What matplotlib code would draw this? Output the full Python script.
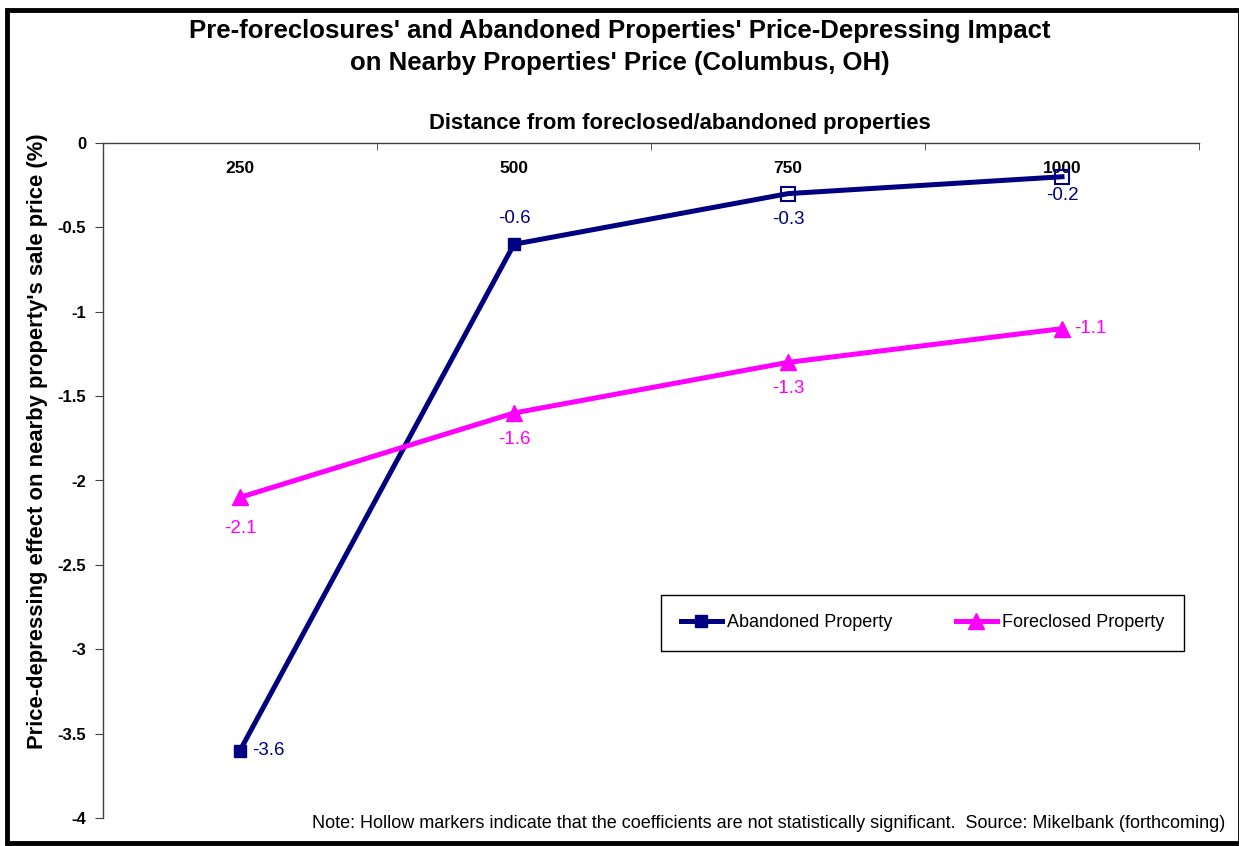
import matplotlib.pyplot as plt
from matplotlib.patches import Rectangle

plt.rcParams['font.family'] = ['Liberation Sans', 'DejaVu Sans']

distancias = ['250', '500', '750', '1000']
abandonado = [-3.6, -0.6, -0.3, -0.2]
execucao = [-2.1, -1.6, -1.3, -1.1]
# coeficientes significativos (marcador cheio) ou nao (vazio)
abandonado_sig = [True, True, False, False]
execucao_sig = [True, True, True, True]

azul = '#000080'
rosa = '#FF00FF'

fig = plt.figure(figsize=(12.39, 8.46), dpi=100)
ax = fig.add_axes([103 / 1239, 1 - 818 / 846, 1096 / 1239, 675 / 846])

x = list(range(len(distancias)))

# linhas
sig_a = [i for i, s in enumerate(abandonado_sig) if s]
nsig_a = [i for i, s in enumerate(abandonado_sig) if not s]
ax.plot(x, abandonado, color=azul, lw=3.6, marker='s', ms=9, markevery=sig_a,
        label='Abandoned Property', zorder=3)
ax.plot([x[i] for i in nsig_a], [abandonado[i] for i in nsig_a], ls='none',
        marker='s', ms=10, mfc='none', mec=azul, mew=1.5, zorder=4)

sig_f = [i for i, s in enumerate(execucao_sig) if s]
ax.plot(x, execucao, color=rosa, lw=3.6, marker='^', ms=11, markevery=sig_f,
        label='Foreclosed Property', zorder=3)

# rotulos dos pontos
desloc = {'right': (12, 0, 'left', 'center'),
          'above': (0, 26, 'center', 'center'),
          'below': (0, -26, 'center', 'center'),
          'below2': (0, -19, 'center', 'center'),
          'below3': (0, -31, 'center', 'center')}
pos_a = ['right', 'above', 'below', 'below2']
pos_f = ['below3', 'below', 'below', 'right']
for serie, pos, cor in [(abandonado, pos_a, azul), (execucao, pos_f, rosa)]:
    for i, v in enumerate(serie):
        dx, dy, ha, va = desloc[pos[i]]
        ax.annotate(f'{v:g}', (x[i], v), xytext=(dx, dy), textcoords='offset pixels',
                    ha=ha, va=va, color=cor, fontsize=13.5)

# eixos
ax.set_xlim(-0.5, 3.5)
ax.set_ylim(-4, 0)
ax.spines['right'].set_visible(False)
ax.spines['bottom'].set_visible(False)
for s in ['left', 'top']:
    ax.spines[s].set_color('#404040')
    ax.spines[s].set_linewidth(1)

ax.xaxis.tick_top()
ax.set_xticks(x)
ax.set_xticklabels(distancias, fontsize=12.5, fontweight='bold')
ax.set_xticks([-0.5, 0.5, 1.5, 2.5, 3.5], minor=True)
ax.tick_params(axis='x', which='major', length=0, pad=-24)
ax.tick_params(axis='x', which='minor', direction='in', length=5, color='#404040')

ax.set_yticks([0, -0.5, -1, -1.5, -2, -2.5, -3, -3.5, -4])
ax.set_yticklabels(['0', '-0.5', '-1', '-1.5', '-2', '-2.5', '-3', '-3.5', '-4'],
                   fontsize=12, fontweight='bold')
ax.tick_params(axis='y', direction='out', length=6, color='#404040', pad=6)

ax.xaxis.set_label_position('top')
ax.set_xlabel('Distance from foreclosed/abandoned properties', fontsize=15.8,
              fontweight='bold')
ax.xaxis.set_label_coords((680 - 103) / 1096, 1 + (143 - 124) / 675)
ax.xaxis.label.set_va('center')
ax.set_ylabel("Price-depressing effect on nearby property's sale price (%)",
              fontsize=15.8, fontweight='bold')
ax.yaxis.set_label_coords((38 - 103) / 1096, 1 - (441 - 143) / 675)
ax.yaxis.label.set_va('center')

leg = ax.legend(loc='lower left', bbox_to_anchor=(0.509, 0.247, 0.477, 0.082),
                mode='expand', ncol=2, fontsize=13, frameon=True, fancybox=False,
                edgecolor='black', framealpha=1, handlelength=2.3,
                handletextpad=0.25, columnspacing=1.5, borderpad=1.1,
                borderaxespad=0)
leg.get_frame().set_linewidth(1)
leg._legend_box.align = 'center'

fig.text(0.5, 1 - 47 / 846,
         "Pre-foreclosures' and Abandoned Properties' Price-Depressing Impact\n"
         "on Nearby Properties' Price (Columbus, OH)",
         ha='center', va='center', fontsize=18.5, fontweight='bold', linespacing=1.45)

fig.text(1225 / 1239, 1 - 823 / 846,
         'Note: Hollow markers indicate that the coefficients are not statistically '
         'significant.  Source: Mikelbank (forthcoming)',
         ha='right', va='center', fontsize=13)

# moldura
fig.patches.append(Rectangle((6.5 / 1239, 3 / 846), (1240 - 6.5) / 1239, (835.5 - 3) / 846,
                             transform=fig.transFigure, fill=False, lw=3.5,
                             edgecolor='black'))

fig.savefig('out.png', dpi=100)
